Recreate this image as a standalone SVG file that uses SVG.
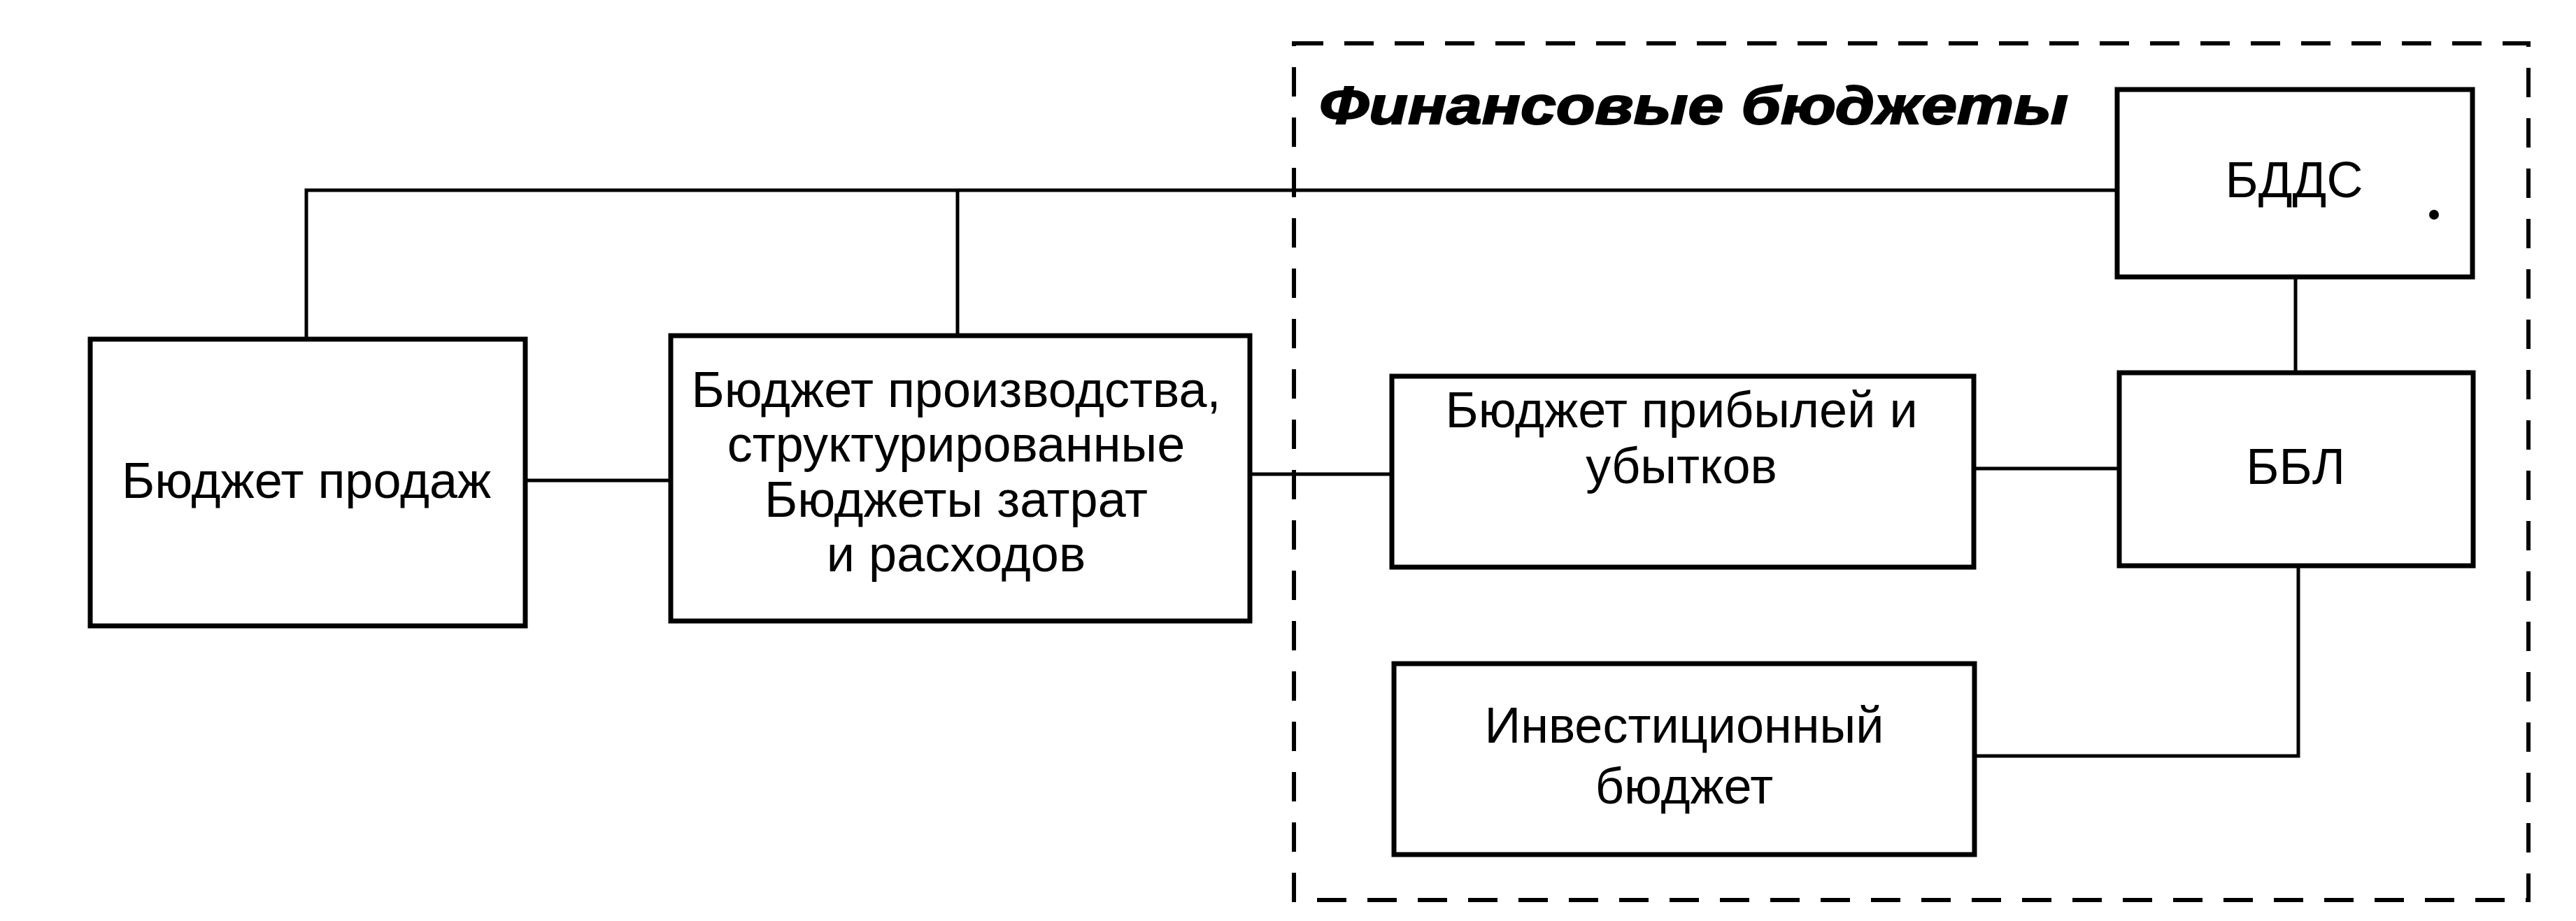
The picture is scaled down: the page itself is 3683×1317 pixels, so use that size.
<svg xmlns="http://www.w3.org/2000/svg" width="3683" height="1317" viewBox="0 0 3683 1317">
<style>
.box{fill:#fff;stroke:#000;stroke-width:7}
.ln{fill:none;stroke:#000;stroke-width:5}
.t{font-family:"Liberation Sans",Arial,sans-serif;font-size:72px;fill:#000;text-anchor:middle}
.title{font-family:"Liberation Sans",Arial,sans-serif;font-size:76px;font-weight:bold;font-style:italic;fill:#000;stroke:#000;stroke-width:2}
</style>
<rect width="3683" height="1317" fill="#fff"/>
<g id="financial-group">
<rect x="1850" y="62" width="1765" height="1225" fill="none" stroke="#000" stroke-width="6" stroke-dasharray="42 30"/>
<text class="title" x="1886" y="177" textLength="1071" lengthAdjust="spacingAndGlyphs">Финансовые бюджеты</text>
</g>
<g id="connectors">
<polyline class="ln" points="438,485 438,272 3027,272"/>
<line class="ln" x1="1369" y1="272" x2="1369" y2="480"/>
<line class="ln" x1="751" y1="687" x2="959" y2="687"/>
<line class="ln" x1="1787" y1="678" x2="1990" y2="678"/>
<line class="ln" x1="2822" y1="670" x2="3030" y2="670"/>
<line class="ln" x1="3282" y1="396" x2="3282" y2="533"/>
<polyline class="ln" points="2823,1081 3286,1081 3286,809"/>
</g>
<g id="sales">
<rect class="box" x="129" y="485" width="622" height="410"/>
<text class="t" x="438" y="712">Бюджет продаж</text>
</g>
<g id="production">
<rect class="box" x="959" y="480" width="828" height="408"/>
<text class="t" x="1367" y="582">Бюджет производства,</text>
<text class="t" x="1367" y="660">структурированные</text>
<text class="t" x="1367" y="739">Бюджеты затрат</text>
<text class="t" x="1367" y="817">и расходов</text>
</g>
<g id="bdds">
<rect class="box" x="3027" y="128" width="508" height="268"/>
<text class="t" x="3280" y="282">БДДС</text>
<circle cx="3480" cy="307" r="7" fill="#000"/>
</g>
<g id="bbl">
<rect class="box" x="3030" y="533" width="506" height="276"/>
<text class="t" x="3282" y="692">ББЛ</text>
</g>
<g id="pnl">
<rect class="box" x="1990" y="538" width="832" height="273"/>
<text class="t" x="2404" y="611">Бюджет прибылей и</text>
<text class="t" x="2404" y="691">убытков</text>
</g>
<g id="invest">
<rect class="box" x="1993" y="949" width="830" height="273"/>
<text class="t" x="2408" y="1062">Инвестиционный</text>
<text class="t" x="2408" y="1149">бюджет</text>
</g>
</svg>
